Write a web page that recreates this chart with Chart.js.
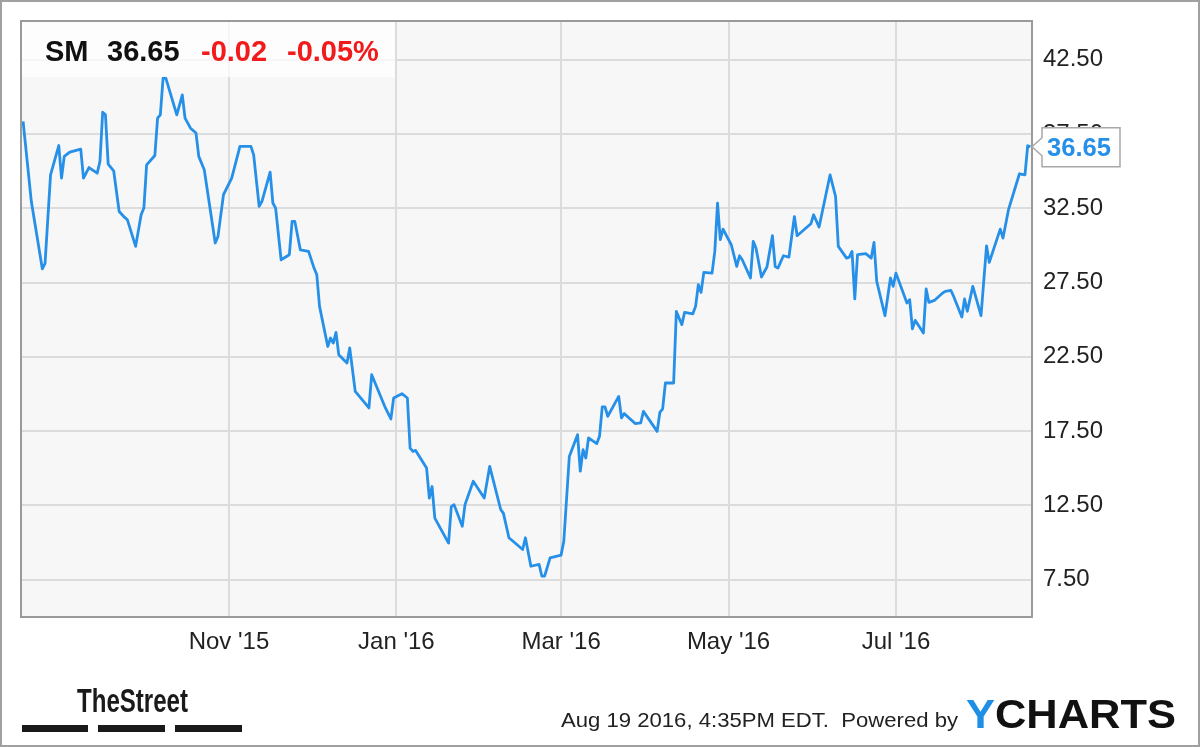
<!DOCTYPE html>
<html>
<head>
<meta charset="utf-8">
<script src="https://cdn.jsdelivr.net/npm/chart.js@4.4.1/dist/chart.umd.min.js"></script>
<style>
  html, body { margin: 0; padding: 0; background: #ffffff; }
  #chart { display: block; }
</style>
</head>
<body>
<canvas id="chart" width="1200" height="747"></canvas>
<script>
// SM daily close, Aug 18 2015 - Aug 19 2016 (days counted from startDate)
const startDate = '2015-08-18';
const dayOffsets = [
  0, 3, 7, 8, 10, 13, 14, 15, 17, 21, 22, 24, 27, 28, 29, 30, 31, 33, 35, 37,
  38, 41, 43, 44, 45, 48, 49, 50, 51, 52, 56, 58, 59, 61, 63, 64, 66, 70, 71, 73,
  76, 79, 83, 84, 86, 87, 90, 91, 92, 94, 97, 98, 99, 101, 104, 106, 107, 108, 111, 112,
  113, 114, 115, 118, 119, 121, 126, 127, 132, 134, 135, 138, 140, 141, 142, 143, 147, 148, 149, 150,
  155, 156, 157, 160, 161, 164, 168, 170, 174, 175, 177, 182, 183, 185, 188, 189, 190, 192, 196, 197,
  199, 202, 203, 204, 205, 206, 209, 210, 211, 212, 213, 217, 218, 219, 223, 225, 226, 231, 232, 233,
  234, 237, 238, 240, 241, 244, 245, 246, 247, 248, 251, 252, 253, 254, 255, 258, 260, 261, 262, 265,
  266, 267, 269, 271, 273, 274, 275, 277, 279, 281, 282, 287, 288, 290, 294, 296, 297, 300, 301, 302,
  303, 304, 307, 309, 310, 311, 314, 316, 317, 318, 322, 323, 324, 325, 328, 329, 330, 332, 335, 336,
  338, 339, 342, 343, 344, 346, 349, 351, 352, 356, 357, 359, 363, 365, 366, 367
];
const prices = [
  38.35, 32.96, 28.43, 28.80, 34.76, 36.73, 34.54, 36.00, 36.29, 36.49, 34.54, 35.25, 34.87, 35.66, 38.98, 38.80, 35.48, 35.03, 32.29, 31.89,
  31.73, 29.94, 32.07, 32.52, 35.43, 36.06, 38.58, 38.80, 41.27, 41.27, 38.80, 40.14, 38.58, 37.90, 37.57, 36.00, 35.10, 30.17, 30.61, 33.42,
  34.54, 36.67, 36.67, 36.10, 32.63, 32.96, 34.94, 32.86, 32.52, 29.04, 29.38, 31.62, 31.62, 29.71, 29.60, 28.48, 28.03, 25.90, 23.20, 23.77,
  23.43, 24.15, 22.65, 22.09, 23.10, 20.18, 19.06, 21.30, 19.06, 18.32, 19.73, 20.02, 19.73, 16.35, 16.13, 16.20, 15.01, 12.99, 13.77, 11.64,
  9.96, 12.42, 12.55, 11.09, 12.55, 14.12, 12.99, 15.13, 12.22, 11.96, 10.32, 9.53, 10.32, 8.40, 8.52, 7.73, 7.73, 8.97, 9.15, 10.10,
  15.79, 17.26, 14.80, 16.25, 15.69, 17.04, 16.66, 17.15, 19.13, 19.13, 18.50, 19.84, 18.39, 18.68, 18.01, 18.05, 18.83, 17.48, 18.77, 19.00,
  20.74, 20.74, 25.56, 24.67, 25.50, 25.40, 25.90, 27.36, 26.84, 28.19, 28.14, 29.60, 32.85, 30.39, 31.10, 30.05, 28.59, 29.31, 29.04, 27.81,
  30.28, 29.83, 27.88, 28.55, 30.66, 28.59, 28.48, 29.31, 29.22, 31.95, 30.66, 31.46, 32.07, 31.24, 34.76, 33.30, 29.94, 29.15, 29.22, 29.60,
  26.40, 29.38, 29.45, 29.15, 30.21, 27.58, 25.27, 27.81, 27.25, 28.14, 26.13, 26.35, 24.38, 24.96, 24.11, 27.07, 26.17, 26.30, 26.80, 26.91,
  26.98, 26.58, 25.18, 26.40, 25.57, 27.25, 25.27, 29.98, 28.86, 31.10, 30.50, 32.41, 34.83, 34.76, 36.72, 36.65
];

const tickDates = ['2015-11-01', '2016-01-01', '2016-03-01', '2016-05-01', '2016-07-01'];
const tickLabels = ["Nov '15", "Jan '16", "Mar '16", "May '16", "Jul '16"];
const priceTicks = [7.5, 12.5, 17.5, 22.5, 27.5, 32.5, 37.5, 42.5];

const ticker = 'SM';
const lastPrice = '36.65';
const change = '-0.02';
const changePct = '-0.05%';
const stamp = 'Aug 19 2016, 4:35PM EDT.  Powered by';

const lineBlue = '#2690e8';
const fontFamily = '"Liberation Sans", Arial, sans-serif';

function daysFromStart(s) {
  return (Date.parse(s) - Date.parse(startDate)) / 86400000;
}

// draws text squeezed or stretched to a given width
function fitText(ctx, text, x, y, width, font, color) {
  ctx.save();
  ctx.font = font;
  ctx.fillStyle = color;
  ctx.textBaseline = 'alphabetic';
  ctx.textAlign = 'left';
  var w = ctx.measureText(text).width;
  ctx.translate(x, y);
  ctx.scale(width / w, 1);
  ctx.fillText(text, 0, 0);
  ctx.restore();
}

const decor = {
  id: 'decor',
  beforeDraw(chart) {
    const ctx = chart.ctx;
    const a = chart.chartArea;
    ctx.save();
    ctx.fillStyle = '#ffffff';
    ctx.fillRect(0, 0, chart.width, chart.height);
    ctx.fillStyle = '#f7f7f7';
    ctx.fillRect(a.left, a.top, a.right - a.left, a.bottom - a.top);
    ctx.restore();
  },
  afterDatasetsDraw(chart) {
    const ctx = chart.ctx;
    const a = chart.chartArea;
    ctx.save();
    // header box
    ctx.fillStyle = 'rgba(255,255,255,0.75)';
    ctx.fillRect(a.left, a.top, 373, 55);
    ctx.font = 'bold 29px ' + fontFamily;
    ctx.textBaseline = 'alphabetic';
    ctx.fillStyle = '#111111';
    ctx.fillText(ticker, 45, 61);
    ctx.fillText(lastPrice, 107, 61);
    ctx.fillStyle = '#f21b1b';
    ctx.fillText(change, 201, 61);
    ctx.fillText(changePct, 287, 61);
    ctx.restore();
  },
  afterDraw(chart) {
    const ctx = chart.ctx;
    const a = chart.chartArea;
    const y = chart.scales.y;
    ctx.save();
    // plot border
    ctx.strokeStyle = '#9a9a9a';
    ctx.lineWidth = 2;
    ctx.strokeRect(a.left - 1, a.top - 1, a.right - a.left + 2, a.bottom - a.top + 2);
    // outer frame
    ctx.strokeStyle = '#a0a0a0';
    ctx.strokeRect(1, 1, chart.width - 2, chart.height - 2);

    // last price callout
    const py = y.getPixelForValue(prices[prices.length - 1]);
    const bx = a.right + 11, bw = 78, top = py - 19, bot = py + 20;
    ctx.beginPath();
    ctx.moveTo(bx, top);
    ctx.lineTo(bx + bw, top);
    ctx.lineTo(bx + bw, bot);
    ctx.lineTo(bx, bot);
    ctx.lineTo(bx, py + 9);
    ctx.lineTo(a.right + 1, py);
    ctx.lineTo(bx, py - 9);
    ctx.closePath();
    ctx.fillStyle = '#ffffff';
    ctx.fill();
    ctx.strokeStyle = '#a8a8a8';
    ctx.lineWidth = 1.5;
    ctx.stroke();
    fitText(ctx, lastPrice, bx + 5, py + 9, 64, 'bold 25px ' + fontFamily, lineBlue);

    // footer
    fitText(ctx, 'TheStreet', 77, 712, 111, 'bold 34px ' + fontFamily, '#1a1a1a');
    ctx.fillStyle = '#1a1a1a';
    ctx.fillRect(22, 725, 66, 7);
    ctx.fillRect(98, 725, 67, 7);
    ctx.fillRect(175, 725, 67, 7);
    fitText(ctx, stamp, 561, 727, 397, '21px ' + fontFamily, '#222222');
    ctx.font = 'bold 40px ' + fontFamily;
    const wy = ctx.measureText('Y').width;
    const wc = ctx.measureText('CHARTS').width;
    const sc = 210 / (wy + wc);
    fitText(ctx, 'Y', 966, 728, wy * sc, 'bold 40px ' + fontFamily, '#1f8fe6');
    fitText(ctx, 'CHARTS', 966 + wy * sc, 728, wc * sc, 'bold 40px ' + fontFamily, '#111111');
    ctx.restore();
  }
};

const config = {
  type: 'line',
  data: {
    datasets: [{
      data: dayOffsets.map(function (d, i) { return { x: d, y: prices[i] }; }),
      borderColor: lineBlue,
      borderWidth: 2.8,
      borderJoinStyle: 'round',
      pointRadius: 0,
      tension: 0,
      fill: false
    }]
  },
  options: {
    responsive: false,
    animation: false,
    devicePixelRatio: 1,
    layout: { padding: { left: 22, top: 22, right: 0, bottom: 0 } },
    plugins: {
      legend: { display: false },
      tooltip: { enabled: false }
    },
    scales: {
      x: {
        type: 'linear',
        position: 'bottom',
        min: -0.4,
        max: 367.2,
        afterBuildTicks: function (s) {
          s.ticks = tickDates.map(function (d) { return { value: daysFromStart(d) }; });
        },
        afterFit: function (s) {
          s.height = 131;
          s.paddingLeft = 0;
          s.paddingRight = 0;
        },
        grid: { color: '#dcdcdc', lineWidth: 2, drawTicks: false },
        border: { display: false },
        ticks: {
          callback: function (v, i) { return tickLabels[i]; },
          font: { family: fontFamily, size: 24 },
          color: '#222222',
          padding: 12,
          autoSkip: false,
          maxRotation: 0
        }
      },
      y: {
        type: 'linear',
        position: 'right',
        min: 5.05,
        max: 45.05,
        afterBuildTicks: function (s) {
          s.ticks = priceTicks.map(function (v) { return { value: v }; });
        },
        afterFit: function (s) {
          s.width = 169;
          s.paddingTop = 0;
          s.paddingBottom = 0;
        },
        grid: { color: '#dcdcdc', lineWidth: 2, drawTicks: false },
        border: { display: false },
        ticks: {
          callback: function (v) { return v.toFixed(2); },
          font: { family: fontFamily, size: 24 },
          color: '#222222',
          padding: 12
        }
      }
    }
  },
  plugins: [decor]
};

const chart = new Chart(document.getElementById('chart'), config);
</script>
</body>
</html>
